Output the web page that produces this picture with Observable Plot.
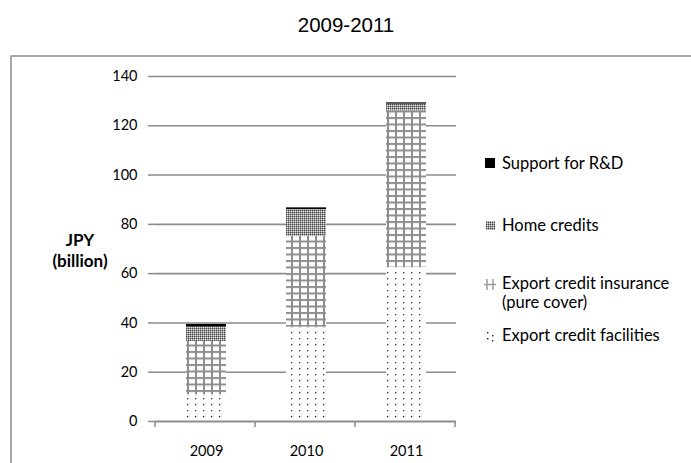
<!DOCTYPE html>
<html>
<head>
<meta charset="utf-8">
<script src="https://cdn.jsdelivr.net/npm/d3@7"></script>
<script src="https://cdn.jsdelivr.net/npm/@observablehq/plot@0.6"></script>
<style>
  html, body { margin: 0; padding: 0; background: #fff; }
  #chart { width: 691px; height: 463px; position: relative; }
</style>
</head>
<body>
<div id="chart"></div>
<script>
// Official export credit support, JPY billion, stacked by programme
const years = ["2009", "2010", "2011"];
const seriesNames = [
  "Export credit facilities",
  "Export credit insurance (pure cover)",
  "Home credits",
  "Support for R&D"
];
const facilities = [10.8, 38.3, 62.6];
const insurance = [21.7, 36.9, 63.4];
const homeCredits = [5.8, 10.8, 2.8];
const supportRD = [1.1, 0.7, 0.5];
const yTicks = [0, 20, 40, 60, 80, 100, 120, 140];

const seriesValues = [facilities, insurance, homeCredits, supportRD];
const rows = [];
years.forEach((year, i) => {
  seriesNames.forEach((name, s) => rows.push({year, series: name, value: seriesValues[s][i]}));
});

const fills = ["url(#pat-dots)", "url(#pat-grid)", "url(#pat-stipple)", "#000"];
const font = "Lato, 'Open Sans', sans-serif";

const plot = Plot.plot({
  width: 691,
  height: 463,
  marginLeft: 155,
  marginRight: 235,
  marginTop: 76,
  marginBottom: 42,
  style: {fontFamily: font, fontSize: "14px", color: "#000", background: "#fff"},
  x: {domain: years, paddingInner: 0.6, paddingOuter: 0.3, label: null},
  y: {domain: [0, 140], label: null},
  color: {domain: seriesNames, range: fills},
  marks: [
    Plot.ruleY(yTicks.filter(d => d > 0), {stroke: "#8c8c8c", strokeWidth: 1.6}),
    Plot.barY(rows, {x: "year", y: "value", fill: "series", order: seriesNames}),
    Plot.axisY(yTicks, {tickSize: 7, tickPadding: 11, stroke: "#8c8c8c", strokeWidth: 1.5, fill: "#000", fontSize: 14.5}),
    Plot.axisX({tickSize: 0, tickPadding: 24, fill: "#000", fontSize: 14.5}),
    Plot.ruleX([0], {x: () => 0, frameAnchor: "left", stroke: "#8c8c8c", strokeWidth: 2}),
    Plot.ruleY([0], {stroke: "#8c8c8c", strokeWidth: 2})
  ]
});

document.getElementById("chart").appendChild(plot);

const svg = d3.select(plot);
const defs = svg.insert("defs", ":first-child");

// small black dots
const pd = defs.append("pattern").attr("id", "pat-dots").attr("patternUnits", "userSpaceOnUse")
  .attr("width", 8).attr("height", 6);
pd.append("rect").attr("width", 8).attr("height", 6).attr("fill", "#fff");
pd.append("rect").attr("x", 3).attr("y", 2).attr("width", 1.3).attr("height", 1.3).attr("fill", "#333");

// grey lattice
const pg = defs.append("pattern").attr("id", "pat-grid").attr("patternUnits", "userSpaceOnUse")
  .attr("width", 8).attr("height", 6.5);
pg.append("rect").attr("width", 8).attr("height", 6.5).attr("fill", "#fff");
pg.append("rect").attr("x", 0).attr("y", 0).attr("width", 8).attr("height", 2).attr("fill", "#8e8e8e");
pg.append("rect").attr("x", 3).attr("y", 0).attr("width", 2).attr("height", 6.5).attr("fill", "#8e8e8e");

// fine grey stipple
const ps = defs.append("pattern").attr("id", "pat-stipple").attr("patternUnits", "userSpaceOnUse")
  .attr("width", 2).attr("height", 2);
ps.append("rect").attr("width", 2).attr("height", 2).attr("fill", "#9a9a9a");
ps.append("rect").attr("x", 0).attr("y", 0).attr("width", 1).attr("height", 1).attr("fill", "#444");
ps.append("rect").attr("x", 1).attr("y", 1).attr("width", 1).attr("height", 1).attr("fill", "#e0e0e0");

// x-axis ticks at the category boundaries
const xs = plot.scale("x");
const step = xs.step;
const x0 = xs.range[0];
const yBase = plot.scale("y").apply(0);
for (let k = 0; k <= years.length; k++) {
  const px = x0 + k * step;
  svg.append("line").attr("x1", px).attr("x2", px).attr("y1", yBase).attr("y2", yBase + 6)
    .attr("stroke", "#8c8c8c").attr("stroke-width", 1.5);
}

// outer chart border
svg.append("path").attr("d", "M11,463V56H691").attr("fill", "none")
  .attr("stroke", "#8c8c8c").attr("stroke-width", 1.5);

// title
svg.append("text").attr("x", 346).attr("y", 32).attr("text-anchor", "middle")
  .attr("font-family", "'Liberation Sans', Arial, sans-serif").attr("font-size", 20.5).attr("fill", "#000")
  .text("2009-2011");

// y-axis title
const yt = svg.append("text").attr("text-anchor", "middle").attr("font-family", font)
  .attr("font-weight", "bold").attr("font-size", 17).attr("fill", "#000");
yt.append("tspan").attr("x", 80).attr("y", 246).text("JPY");
yt.append("tspan").attr("x", 80).attr("y", 267).text("(billion)");

// legend
const lg = svg.append("g").attr("font-family", font).attr("font-size", 16.5).attr("fill", "#000")
  .attr("text-anchor", "start");
const legendItems = [
  {lines: ["Support for R&D"], y: 169},
  {lines: ["Home credits"], y: 231},
  {lines: ["Export credit insurance"], y: 289},
  {lines: ["(pure cover)"], y: 308},
  {lines: ["Export credit facilities"], y: 341}
];
legendItems.forEach(it => {
  lg.append("text").attr("x", 502).attr("y", it.y).text(it.lines[0]);
});
// swatches
lg.append("rect").attr("x", 485).attr("y", 158).attr("width", 10).attr("height", 10).attr("fill", "#000");
lg.append("rect").attr("x", 486).attr("y", 221).attr("width", 9).attr("height", 9).attr("fill", "url(#pat-stipple)");
[[487, 279, 487, 290], [493, 279, 493, 290], [484, 284.5, 496, 284.5]].forEach(([a, b, c, d]) =>
  lg.append("line").attr("x1", a).attr("y1", b).attr("x2", c).attr("y2", d)
    .attr("stroke", "#999").attr("stroke-width", 1.5));
[[487, 332], [487, 338], [492, 335], [492, 340]].forEach(([cx, cy]) =>
  lg.append("rect").attr("x", cx).attr("y", cy).attr("width", 1.4).attr("height", 1.4).attr("fill", "#222"));
</script>
</body>
</html>
